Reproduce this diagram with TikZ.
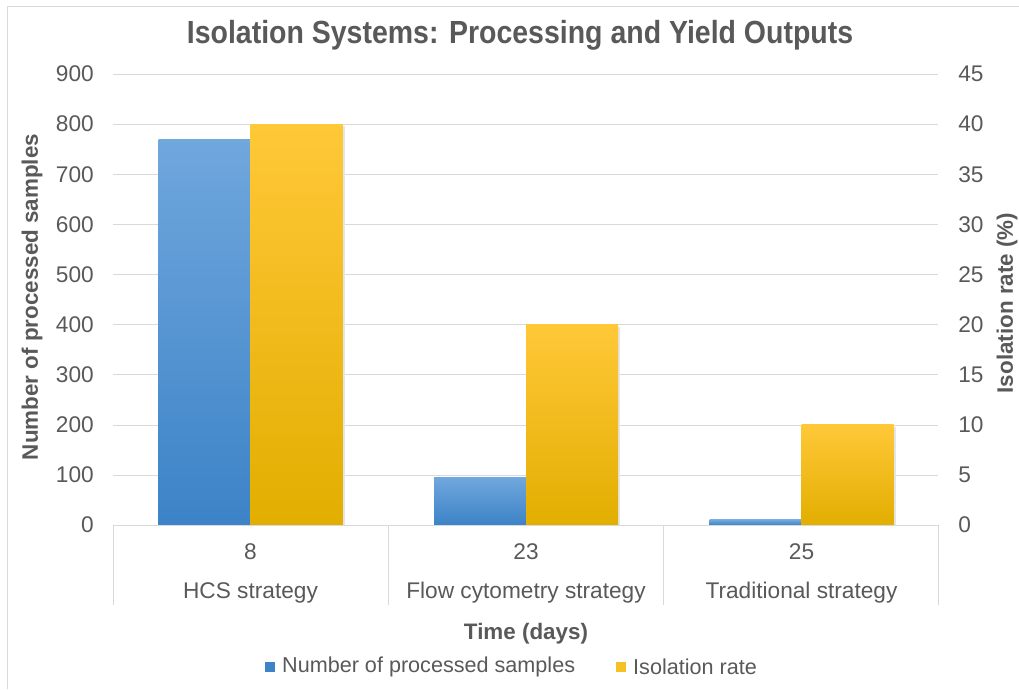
\documentclass[tikz, border = 0pt]{standalone}
\usepackage{fontspec}
\setmainfont{Liberation Sans}
\usetikzlibrary{positioning}

\definecolor{txtgray}{HTML}{595959}
\definecolor{gridgray}{HTML}{D9D9D9}
\definecolor{bluetop}{HTML}{70A7DD}
\definecolor{bluebot}{HTML}{3C83C7}
\definecolor{goldtop}{HTML}{FFC838}
\definecolor{goldbot}{HTML}{E2AE00}

\begin{document}
\begin{tikzpicture}[x = 0.75pt, y = 0.75pt,
	ticklbl/.style = {font = \fontsize{17}{19}\selectfont, text = txtgray, inner sep = 0pt},
	axtitle/.style = {font = \fontsize{16.8}{19}\selectfont\bfseries, text = txtgray, inner sep = 0pt},
	legtxt/.style = {font = \fontsize{16.2}{18}\selectfont, text = txtgray, inner sep = 0pt}]

	\useasboundingbox (0, 0) rectangle (1019, 689);

	% Chart frame

	\draw [gridgray] (7, 0) -- (7, 683) -- (1019, 683);

	% Title

	\node [font = \fontsize{24}{27}\selectfont\bfseries, text = txtgray] (title) at (520, 654)
		{\scalebox{0.89}[1]{Isolation Systems: Processing and Yield Outputs}};

	% Gridlines and tick labels

	\foreach \v [count = \i from 0] in {0, 100, ..., 900}
	{

		% Define the right axis value as \p

		\pgfmathtruncatemacro{\p}{\v / 20}

		\draw [gridgray] (113, {164 + 0.5011 * \v}) -- (938, {164 + 0.5011 * \v});
		\node [ticklbl, anchor = east] (tl\i) at (94, {164 + 0.5011 * \v}) {\v};
		\node [ticklbl, anchor = west] (tr\i) at (958, {164 + 0.5011 * \v}) {\p};
	}

	% Bars for the three strategies

	\foreach \c/\n/\r [count = \i from 0] in {250.5/770/40, 526/95/20, 801.5/10/10}
	{

		% Soft shadow behind bars

		\fill [black!10] ({\c - 90}, 164) rectangle ({\c + 2}, {162 + 0.5011 * \n});
		\fill [black!10] ({\c + 2}, 164) rectangle ({\c + 94}, {162 + 10.022 * \r});

		% Samples and isolation rate

		\shade [top color = bluetop, bottom color = bluebot] ({\c - 92}, 164) rectangle (\c, {164 + 0.5011 * \n});
		\shade [top color = goldtop, bottom color = goldbot] (\c, 164) rectangle ({\c + 92}, {164 + 10.022 * \r});
	}

	% Category table below the bars

	\draw [gridgray] (113, 164) -- (938, 164);
	\foreach \x in {113, 388.5, 663.5, 938}
	{
		\draw [gridgray] (\x, 164) -- (\x, 84);
	}

	\foreach \c/\d/\s [count = \i] in {250.5/8/HCS strategy, 526/23/Flow cytometry strategy, 801.5/25/Traditional strategy}
	{
		\node [ticklbl] (day\i) at (\c, 137) {\d};
		\node [ticklbl] (cat\i) at (\c, 96) {\s};
	}

	% Axis titles

	\node [axtitle] (xtitle) at (526, 55) {Time (days)};
	\node [axtitle, rotate = 90] (ytitle) at (32, 392) {Number of processed samples};
	\node [axtitle, rotate = 90] (y2title) at (1007, 386) {Isolation rate (\%)};

	% Legend

	\node [fill = bluebot, minimum size = 7.5pt, inner sep = 0pt] (legblue) at (270, 22) {};
	\node [legtxt, right = 5pt of legblue] (legbluetxt) {Number of processed samples};
	\node [fill = goldtop!70!goldbot, minimum size = 7.5pt, inner sep = 0pt] (leggold) at (621, 22) {};
	\node [legtxt, right = 5pt of leggold] (leggoldtxt) {Isolation rate};

\end{tikzpicture}
\end{document}
